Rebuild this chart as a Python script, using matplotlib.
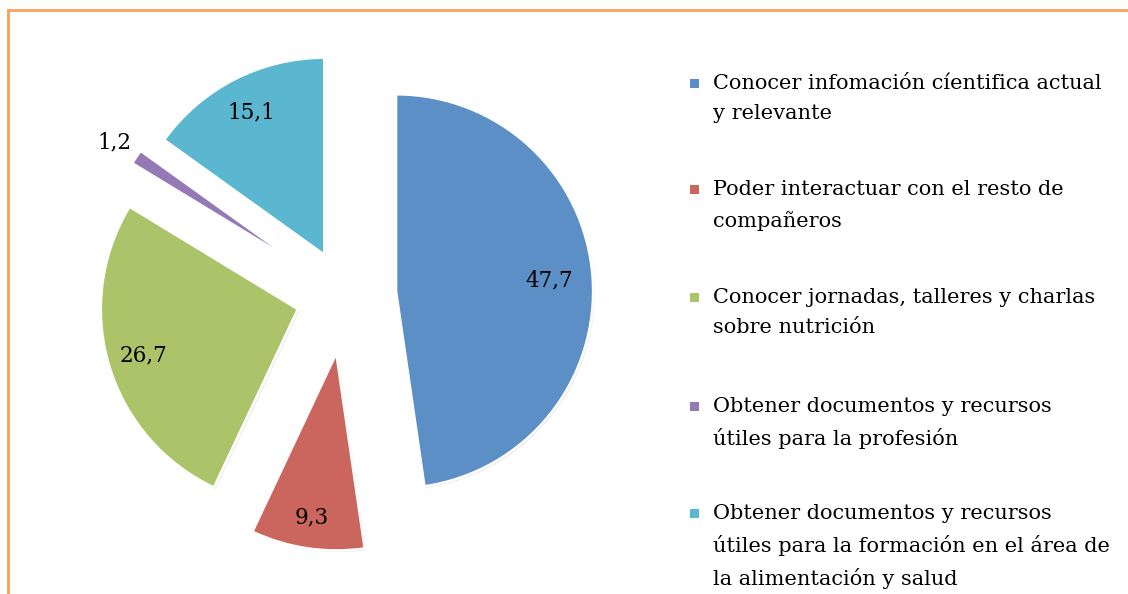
import numpy as np
import matplotlib
matplotlib.use('Agg')
import matplotlib.pyplot as plt
import matplotlib.patheffects as pe
from matplotlib.patches import Rectangle

# data
labels = ['Conocer infomación cíentifica actual\ny relevante',
          'Poder interactuar con el resto de\ncompañeros',
          'Conocer jornadas, talleres y charlas\nsobre nutrición',
          'Obtener documentos y recursos\nútiles para la profesión',
          'Obtener documentos y recursos\nútiles para la formación en el área de\nla alimentación y salud']
values = [47.7, 9.3, 26.7, 1.2, 15.1]
value_text = ['47,7', '9,3', '26,7', '1,2', '15,1']
colors = ['#5B8FC6', '#CB665E', '#ABC46A', '#9579B6', '#5AB7CF']
explode = [0.26, 0.30, 0.25, 0.27, 0.23]

W, H = 1128, 594
fig = plt.figure(figsize=(W / 100, H / 100), dpi=100)
fig.patch.set_facecolor('white')

font = 'DejaVu Serif'

# pie area: centre at pixel (345, 295), radius 197 px
r_px = 197.0
cx, cy = 345.0, 295.0
ax_w = 690
ax = fig.add_axes([0, 0, ax_w / W, 1])
wedges, _ = ax.pie(values, colors=colors, explode=explode, startangle=90,
                   counterclock=False,
                   wedgeprops=dict(edgecolor='white', linewidth=1.8))
for w in wedges:
    w.set_path_effects([pe.SimplePatchShadow(offset=(1.2, -1.2), alpha=0.15,
                                             shadow_rgbFace='#777777'),
                        pe.Normal()])
ax.set_xlim(-cx / r_px, (ax_w - cx) / r_px)
ax.set_ylim(-(H - cy) / r_px, cy / r_px)
ax.set_aspect('auto')
ax.axis('off')

# value labels
label_dist = [0.78, 0.84, 0.82, 1.13, 0.81]
for w, txt, d in zip(wedges, value_text, label_dist):
    mid = np.deg2rad((w.theta1 + w.theta2) / 2)
    x0, y0 = w.center
    ax.text(x0 + d * np.cos(mid), y0 + d * np.sin(mid), txt,
            ha='center', va='center', fontsize=15.5, family=font, color='black')

# legend drawn by hand: square on first line, text on the right
leg_y = [84, 190, 298, 407, 514]
for lab, col, y in zip(labels, colors, leg_y):
    fig.patches.append(Rectangle((690 / W, 1 - (y + 4) / H), 9 / W, 9 / H,
                                 transform=fig.transFigure, facecolor=col,
                                 edgecolor='none'))
    fig.text(713 / W, 1 - (y - 10) / H, lab, ha='left', va='top', fontsize=15,
             family=font, color='black', linespacing=1.72)

# orange frame (only top and left edges are visible)
fig.add_artist(plt.Line2D([8 / W, 8 / W], [0, 1 - 10 / H], color='#F9A05A',
                          linewidth=2, transform=fig.transFigure))
fig.add_artist(plt.Line2D([8 / W, 1], [1 - 10 / H, 1 - 10 / H], color='#F9A05A',
                          linewidth=2, transform=fig.transFigure))

fig.savefig('out.png', dpi=100)
